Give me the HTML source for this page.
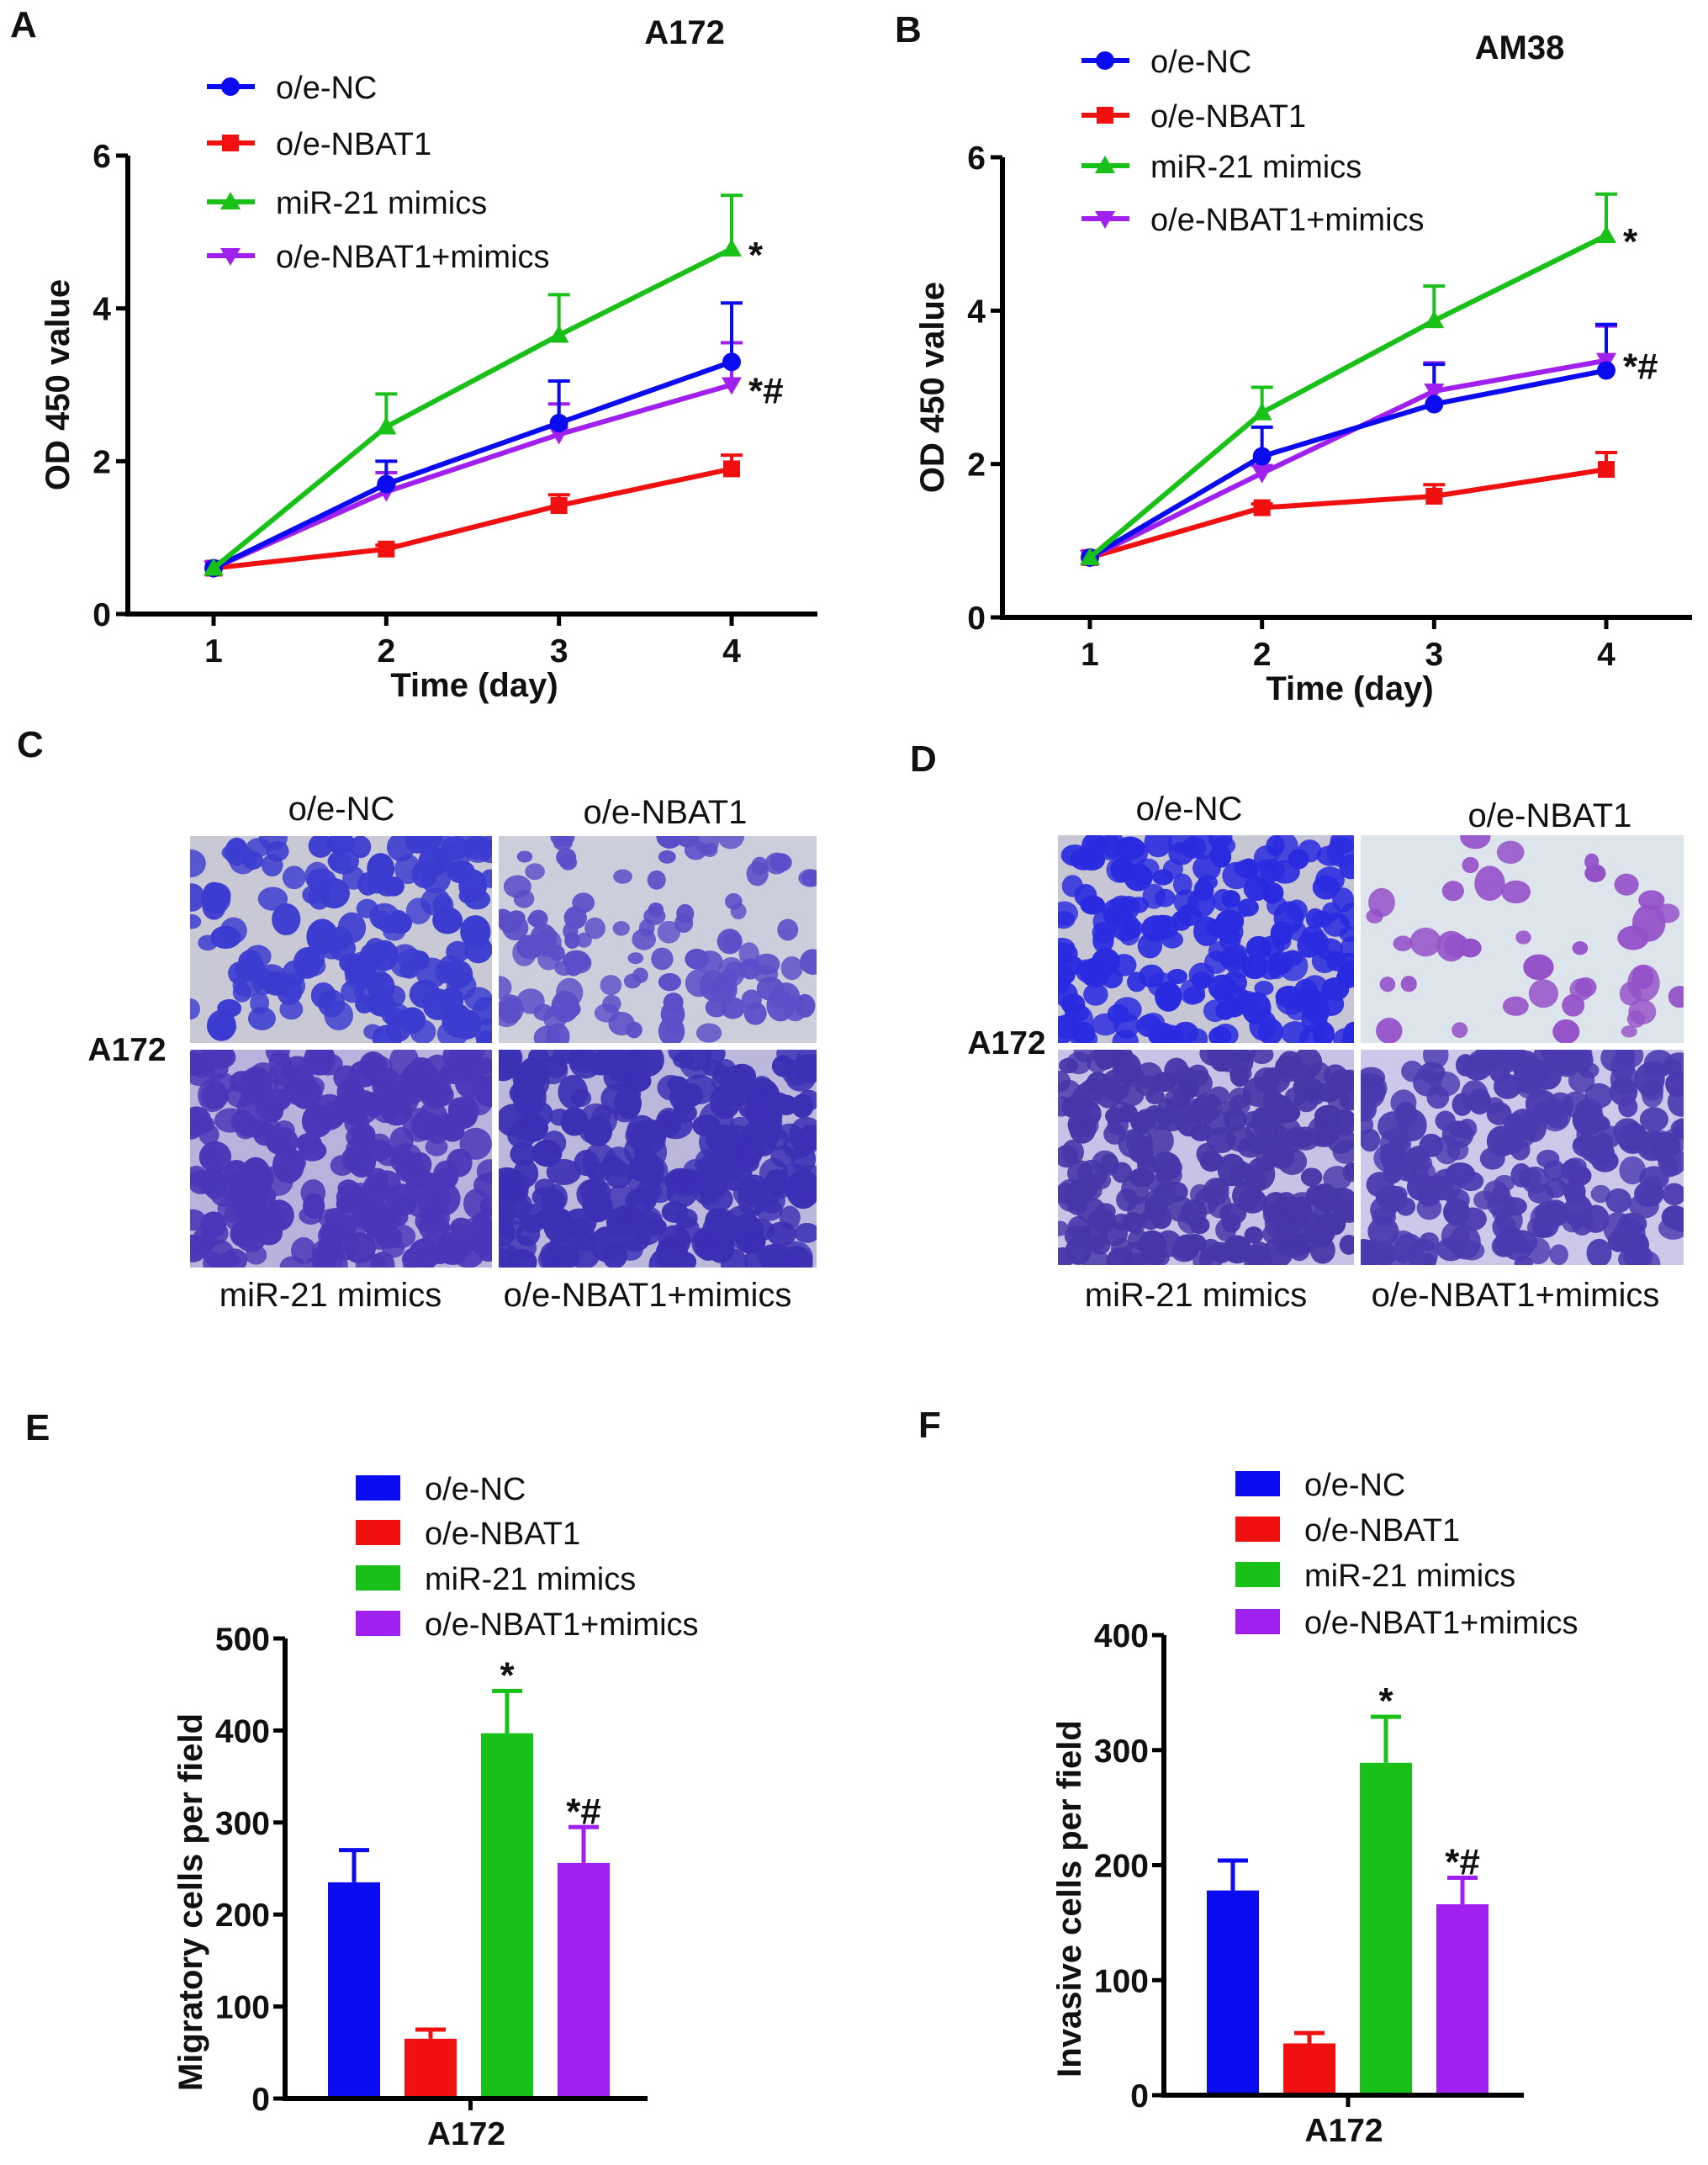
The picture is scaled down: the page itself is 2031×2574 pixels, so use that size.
<!DOCTYPE html>
<html><head><meta charset="utf-8"><style>
html,body{margin:0;padding:0;background:#fff;}
svg{display:block;font-family:"Liberation Sans",Arial,sans-serif;}
.tk{font-size:39px;font-weight:bold;fill:#111;}
.st{font-size:44px;font-weight:bold;fill:#111;}
.ttl{font-size:40px;font-weight:bold;fill:#111;}
.lg{font-size:38px;fill:#111;}
.pl{font-size:44px;font-weight:bold;fill:#111;}
.cap{font-size:40px;fill:#111;}
</style></head><body>
<svg id="fig" width="2031" height="2574" viewBox="0 0 2031 2574" xmlns="http://www.w3.org/2000/svg"></svg>
<script>
// ---- data ----
const days = [1, 2, 3, 4];
const seriesNames = ["o/e-NC", "o/e-NBAT1", "miR-21 mimics", "o/e-NBAT1+mimics"];
const seriesColors = ["#0b0bf0", "#f01010", "#18c018", "#a020f0"];
const aNC = [0.6, 1.7, 2.5, 3.3];
const aNCerr = [0.05, 0.3, 0.55, 0.77];
const aNBAT1 = [0.6, 0.85, 1.42, 1.9];
const aNBAT1err = [0.05, 0.05, 0.14, 0.18];
const aMim = [0.6, 2.45, 3.65, 4.78];
const aMimerr = [0.05, 0.43, 0.53, 0.7];
const aCombo = [0.6, 1.6, 2.35, 3.0];
const aComboerr = [0.05, 0.25, 0.4, 0.55];
const bNC = [0.78, 2.1, 2.78, 3.22];
const bNCerr = [0.05, 0.38, 0.52, 0.6];
const bNBAT1 = [0.78, 1.43, 1.58, 1.93];
const bNBAT1err = [0.05, 0.05, 0.15, 0.22];
const bMim = [0.78, 2.67, 3.87, 4.98];
const bMimerr = [0.05, 0.33, 0.45, 0.54];
const bCombo = [0.78, 1.88, 2.95, 3.35];
const bComboerr = [0.05, 0.1, 0.37, 0.45];
const odTicks = [0, 2, 4, 6];
const migVals = [235, 65, 397, 256];
const migErr = [35, 10, 46, 39];
const invVals = [178, 45, 289, 166];
const invErr = [26, 9, 40, 23];
const migTicks = [0, 100, 200, 300, 400, 500];
const invTicks = [0, 100, 200, 300, 400];
const migMarks = ["", "", "*", "*#"];
const invMarks = ["", "", "*", "*#"];

const NS = "http://www.w3.org/2000/svg";
const svg = document.getElementById("fig");
function mk(tag, attrs, parent, text) {
  const e = document.createElementNS(NS, tag);
  for (const k in attrs) e.setAttribute(k, attrs[k]);
  if (text !== undefined) e.textContent = text;
  (parent || svg).appendChild(e);
  return e;
}
function txt(x, y, s, cls, anchor, parent) {
  return mk("text", {x: x, y: y, class: cls, "text-anchor": anchor || "middle"}, parent, s);
}

// ---- line chart ----
function lineChart(cfg) {
  const g = mk("g", {});
  
  
  const X = d => cfg.x1 + (d - 1) / 3 * (cfg.x4 - cfg.x1);
  const Y = v => cfg.y0 - v / 6 * (cfg.y0 - cfg.y6);
  const ax = mk("path", {d: `M${cfg.ax} ${cfg.y6} V${cfg.y0} H${cfg.axEnd}`, stroke: "#000", "stroke-width": 6, fill: "none"}, g);
  
  
  odTicks.forEach(t => {
    mk("line", {x1: cfg.ax - 14, x2: cfg.ax, y1: Y(t), y2: Y(t), stroke: "#000", "stroke-width": 5}, g);
    const l = txt(cfg.ax - 20, Y(t) + 14, String(t), "tk", "end", g);
    
    
  });
  days.forEach(d => {
    mk("line", {x1: X(d), x2: X(d), y1: cfg.y0, y2: cfg.y0 + 14, stroke: "#000", "stroke-width": 5}, g);
    const l = txt(X(d), cfg.y0 + 57, String(d), "tk", "middle", g);
    
    
  });
  const xt = txt((cfg.x1 + cfg.x4) / 2 + 2, cfg.y0 + 98, "Time (day)", "ttl", "middle", g);
  
  
  const yt = mk("text", {x: 0, y: 0, class: "ttl", "text-anchor": "middle", transform: `translate(${cfg.ax - 70},${(cfg.y0 + cfg.y6) / 2}) rotate(-90)`}, g, "OD 450 value");
  
  
  const order = [1, 3, 0, 2];
  const series = cfg.series;
  order.forEach(i => {
    const vals = series[i][0], errs = series[i][1];
    days.forEach((d, j) => {
      if (j === 0) return;
      const top = Y(vals[j] + errs[j]);
      const e = mk("path", {d: `M${X(d)} ${Y(vals[j])} V${top} M${X(d) - 13} ${top} H${X(d) + 13}`, stroke: seriesColors[i], "stroke-width": 4, fill: "none"}, g);
      
      
    });
  });
  order.forEach(i => {
    const vals = series[i][0];
    const pts = days.map((d, j) => `${X(d)},${Y(vals[j])}`).join(" ");
    const pl = mk("polyline", {points: pts, stroke: seriesColors[i], "stroke-width": 6, fill: "none"}, g);
    
    
    days.forEach((d, j) => marker(i, X(d), Y(vals[j]), g));
  });
  cfg.stars.forEach(s => {
    const t = txt(X(4) + 20, Y(s[0]) + 22, s[1], "st", "start", g);
    
    
  });
  seriesNames.forEach((n, i) => {
    const y = cfg.legY[i];
    const lg = mk("g", {}, g);
    
    
    mk("line", {x1: cfg.legX, x2: cfg.legX + 57, y1: y, y2: y, stroke: seriesColors[i], "stroke-width": 6}, lg);
    marker(i, cfg.legX + 28, y, lg);
    txt(cfg.legX + 82, y + 14, n, "lg", "start", lg);
  });
}
function marker(i, x, y, g) {
  const c = seriesColors[i];
  let m;
  if (i === 0) m = mk("circle", {cx: x, cy: y, r: 11, fill: c}, g);
  else if (i === 1) m = mk("rect", {x: x - 10, y: y - 10, width: 20, height: 20, fill: c}, g);
  else if (i === 2) m = mk("path", {d: `M${x} ${y - 12} L${x + 12} ${y + 9} L${x - 12} ${y + 9}Z`, fill: c}, g);
  else m = mk("path", {d: `M${x} ${y + 12} L${x + 12} ${y - 9} L${x - 12} ${y - 9}Z`, fill: c}, g);
  
  
}

lineChart({name: "panel-a-chart", ax: 152, axEnd: 972, x1: 254, x4: 870, y0: 730, y6: 185,
  series: [[aNC, aNCerr], [aNBAT1, aNBAT1err], [aMim, aMimerr], [aCombo, aComboerr]],
  stars: [[4.78, "*"], [3.0, "*#"]], legX: 246, legY: [103, 170, 240, 304]});
lineChart({name: "panel-b-chart", ax: 1192, axEnd: 2012, x1: 1296, x4: 1910, y0: 734, y6: 187,
  series: [[bNC, bNCerr], [bNBAT1, bNBAT1err], [bMim, bMimerr], [bCombo, bComboerr]],
  stars: [[4.98, "*"], [3.35, "*#"]], legX: 1286, legY: [72, 137, 197, 260]});

const t1 = txt(814, 52, "A172", "ttl", "middle");  
const t2 = txt(1807, 70, "AM38", "ttl", "middle");  

// ---- bar charts ----
function barChart(cfg) {
  const g = mk("g", {});
  
  
  const Y = v => cfg.y0 - v / cfg.max * (cfg.y0 - cfg.yTop);
  cfg.vals.forEach((v, i) => {
    const cx = cfg.bx0 + i * cfg.step;
    const top = Y(v + cfg.errs[i]);
    const e = mk("path", {d: `M${cx} ${Y(v)} V${top} M${cx - 18} ${top} H${cx + 18}`, stroke: seriesColors[i], "stroke-width": 5, fill: "none"}, g);
    
    
    const b = mk("rect", {x: cx - 31, y: Y(v), width: 62, height: cfg.y0 - Y(v), fill: seriesColors[i]}, g);
    
    
    if (cfg.marks[i]) {
      const m = txt(cx, top - 4, cfg.marks[i], "st", "middle", g);
      
      
    }
  });
  const ax = mk("path", {d: `M${cfg.ax} ${cfg.yTop} V${cfg.y0} H${cfg.axEnd}`, stroke: "#000", "stroke-width": 6, fill: "none"}, g);
  
  
  cfg.ticks.forEach(t => {
    mk("line", {x1: cfg.ax - 14, x2: cfg.ax, y1: Y(t), y2: Y(t), stroke: "#000", "stroke-width": 5}, g);
    const l = txt(cfg.ax - 18, Y(t) + 14, String(t), "tk", "end", g);
    
    
  });
  const mid = (cfg.ax + cfg.axEnd) / 2 + 5;
  mk("line", {x1: mid, x2: mid, y1: cfg.y0, y2: cfg.y0 + 14, stroke: "#000", "stroke-width": 5}, g);
  const xl = txt(mid - 5, cfg.y0 + 55, "A172", "tk", "middle", g);
  
  
  const yt = mk("text", {x: 0, y: 0, class: "ttl", "text-anchor": "middle", transform: `translate(${cfg.ylx},${(cfg.y0 + cfg.yTop) / 2 + 40}) rotate(-90)`}, g, cfg.ytitle);
  
  
  seriesNames.forEach((n, i) => {
    const y = cfg.legY[i];
    const lg = mk("g", {}, g);
    
    
    mk("rect", {x: cfg.legX, y: y - 15, width: 53, height: 30, fill: seriesColors[i]}, lg);
    txt(cfg.legX + 82, y + 14, n, "lg", "start", lg);
  });
}
barChart({name: "panel-e-chart", ax: 339, axEnd: 770, yTop: 1948, y0: 2495, max: 500, bx0: 421, step: 91,
  vals: migVals, errs: migErr, marks: migMarks, ticks: migTicks, ytitle: "Migratory cells per field", ylx: 240,
  legX: 423, legY: [1769, 1822, 1876, 1930]});
barChart({name: "panel-f-chart", ax: 1384, axEnd: 1812, yTop: 1944, y0: 2491, max: 400, bx0: 1466, step: 91,
  vals: invVals, errs: invErr, marks: invMarks, ticks: invTicks, ytitle: "Invasive cells per field", ylx: 1285,
  legX: 1469, legY: [1764, 1818, 1872, 1928]});

// ---- panel letters ----
[["A", 12, 44], ["B", 1064, 50], ["C", 20, 900], ["D", 1082, 917], ["E", 30, 1712], ["F", 1092, 1709]].forEach(p => {
  const t = txt(p[1], p[2], p[0], "pl", "start");
  
  
});

// ---- micrographs ----
let seed = 7;
function rnd() { seed = (seed * 16807) % 2147483647; return (seed - 1) / 2147483646; }
function micro(x, y, w, h, bg, cell, n, rmin, rmax, name) {
  const g = mk("g", {});
  
  
  const cid = "c" + Math.round(x) + "_" + Math.round(y);
  const cp = mk("clipPath", {id: cid}, g);
  mk("rect", {x: x, y: y, width: w, height: h}, cp);
  const inner = mk("g", {"clip-path": `url(#${cid})`}, g);
  mk("rect", {x: x, y: y, width: w, height: h, fill: bg}, inner);
  for (let i = 0; i < n; i++) {
    const r = rmin + rnd() * (rmax - rmin);
    mk("ellipse", {cx: x + rnd() * w, cy: y + rnd() * h, rx: r, ry: r * (0.75 + rnd() * 0.4), fill: cell, opacity: 0.8 + rnd() * 0.2}, inner);
  }
}
micro(226, 994, 359, 246, "#c9c9d6", "#3b3bd0", 150, 11, 19, "micrograph-c-oe-nc");
micro(593, 994, 378, 246, "#cdcedc", "#5a4ec8", 110, 9, 17, "micrograph-c-oe-nbat1");
micro(226, 1248, 359, 259, "#b9b2dc", "#4a36b8", 260, 12, 20, "micrograph-c-mimics");
micro(593, 1248, 378, 259, "#bcb8dc", "#3a30b4", 250, 12, 21, "micrograph-c-combo");
micro(1258, 993, 352, 247, "#c6c6d4", "#2a2ae0", 200, 11, 18, "micrograph-d-oe-nc");
micro(1618, 993, 384, 247, "#dde4ec", "#9450c8", 40, 8, 20, "micrograph-d-oe-nbat1");
micro(1258, 1248, 352, 256, "#c9c2e6", "#4636a8", 260, 11, 18, "micrograph-d-mimics");
micro(1618, 1248, 384, 256, "#cdc8ea", "#4a3ab0", 230, 11, 19, "micrograph-d-combo");

[[406, 975, "o/e-NC"], [791, 979, "o/e-NBAT1"], [393, 1553, "miR-21 mimics"], [770, 1553, "o/e-NBAT1+mimics"],
 [1414, 975, "o/e-NC"], [1843, 983, "o/e-NBAT1"], [1422, 1553, "miR-21 mimics"], [1802, 1553, "o/e-NBAT1+mimics"]].forEach(c => {
  const t = txt(c[0], c[1], c[2], "cap", "middle");
  
  
});
const ra = txt(151, 1261, "A172", "tk", "middle");  
const rb = txt(1197, 1253, "A172", "tk", "middle");  
</script>
</body></html>
